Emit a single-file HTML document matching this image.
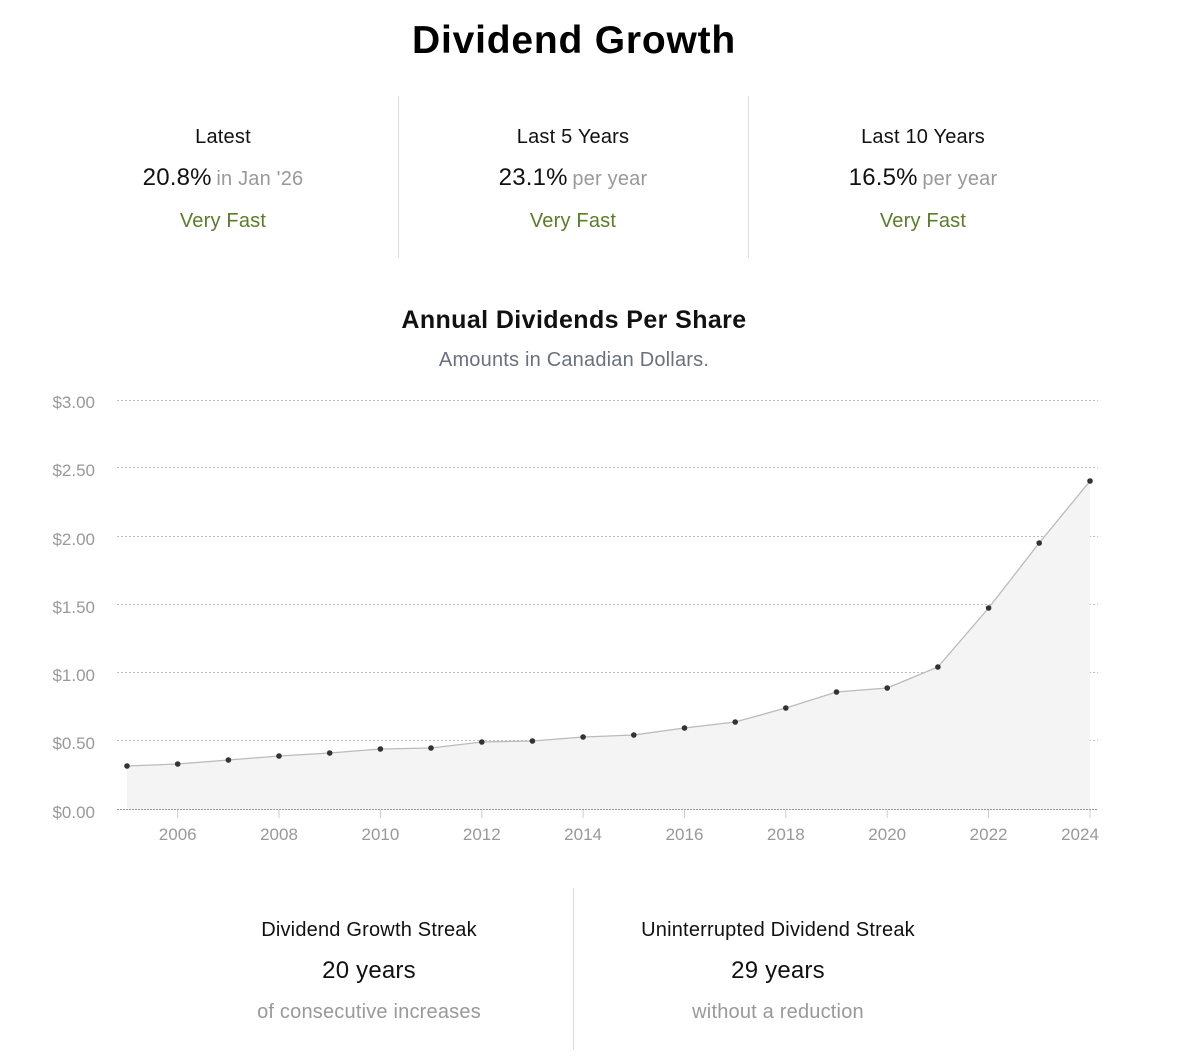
<!DOCTYPE html>
<html><head><meta charset="utf-8"><style>
body{margin:0;width:1182px;height:1062px;background:#fff;font-family:"Liberation Sans","DejaVu Sans",sans-serif;position:relative;overflow:hidden}
.a{position:absolute;text-align:center;white-space:nowrap;letter-spacing:0.2px}
.lbl{font-size:20px;color:#111}
.big{font-size:24px;color:#111}
.g{color:#999;font-size:20px}
.grn{font-size:20px;color:#5a7d2a}
.vl{position:absolute;width:1px;background:#ddd}
</style></head><body>
<div class="a" style="left:0;width:1148px;top:19px;font-size:39px;font-weight:bold;color:#000;letter-spacing:0.8px">Dividend Growth</div>

<div class="a lbl" style="left:48px;width:350px;top:126px">Latest</div>
<div class="a" style="left:48px;width:350px;top:164px"><span class="big">20.8%</span> <span class="g">in Jan '26</span></div>
<div class="a grn" style="left:48px;width:350px;top:210px">Very Fast</div>
<div class="vl" style="left:398px;top:96px;height:162px"></div>
<div class="a lbl" style="left:398px;width:350px;top:126px">Last 5 Years</div>
<div class="a" style="left:398px;width:350px;top:164px"><span class="big">23.1%</span> <span class="g">per year</span></div>
<div class="a grn" style="left:398px;width:350px;top:210px">Very Fast</div>
<div class="vl" style="left:748px;top:96px;height:162px"></div>
<div class="a lbl" style="left:748px;width:350px;top:126px">Last 10 Years</div>
<div class="a" style="left:748px;width:350px;top:164px"><span class="big">16.5%</span> <span class="g">per year</span></div>
<div class="a grn" style="left:748px;width:350px;top:210px">Very Fast</div>

<div class="a" style="left:0;width:1148px;top:306px;font-size:25px;font-weight:bold;color:#111;letter-spacing:0.4px">Annual Dividends Per Share</div>
<div class="a" style="left:0;width:1148px;top:349px;font-size:20px;color:#6b6f80">Amounts in Canadian Dollars.</div>

<svg style="position:absolute;left:0;top:0" width="1182" height="1062">
<g stroke="#bbb" stroke-dasharray="2,2" stroke-width="1">
<line x1="117" x2="1098" y1="400.5" y2="400.5"/><line x1="117" x2="1098" y1="467.5" y2="467.5"/>
<line x1="117" x2="1098" y1="536.5" y2="536.5"/><line x1="117" x2="1098" y1="604.5" y2="604.5"/>
<line x1="117" x2="1098" y1="672.5" y2="672.5"/><line x1="117" x2="1098" y1="740.5" y2="740.5"/>
</g>
<g font-size="17" fill="#999" text-anchor="end">
<text x="95" y="408">$3.00</text><text x="95" y="476">$2.50</text><text x="95" y="545">$2.00</text>
<text x="95" y="613">$1.50</text><text x="95" y="681">$1.00</text><text x="95" y="749">$0.50</text><text x="95" y="818">$0.00</text>
</g>
<polygon fill="#f4f4f4" points="127,810 127,766 177.7,764 228.4,760 279,756 329.7,753 380.4,749 431,748 481.8,742 532.4,741 583.1,737 633.8,735 684.5,728 735.2,722 785.8,708 836.5,692 887.2,688 937.9,667 988.6,608 1039.2,543 1090,481 1090,810"/>
<polyline fill="none" stroke="#bbb" stroke-width="1.3" points="127,766 177.7,764 228.4,760 279,756 329.7,753 380.4,749 431,748 481.8,742 532.4,741 583.1,737 633.8,735 684.5,728 735.2,722 785.8,708 836.5,692 887.2,688 937.9,667 988.6,608 1039.2,543 1090,481"/>
<line x1="117" x2="1098" y1="809.5" y2="809.5" stroke="#999" stroke-dasharray="2,1"/>
<g stroke="#ccc"><line x1="177.7" x2="177.7" y1="810" y2="818"/><line x1="279" x2="279" y1="810" y2="818"/><line x1="380.4" x2="380.4" y1="810" y2="818"/><line x1="481.8" x2="481.8" y1="810" y2="818"/><line x1="583.1" x2="583.1" y1="810" y2="818"/><line x1="684.5" x2="684.5" y1="810" y2="818"/><line x1="785.8" x2="785.8" y1="810" y2="818"/><line x1="887.2" x2="887.2" y1="810" y2="818"/><line x1="988.6" x2="988.6" y1="810" y2="818"/><line x1="1090" x2="1090" y1="810" y2="818"/></g>
<g fill="#333"><circle cx="127" cy="766" r="2.8"/><circle cx="177.7" cy="764" r="2.8"/><circle cx="228.4" cy="760" r="2.8"/><circle cx="279" cy="756" r="2.8"/><circle cx="329.7" cy="753" r="2.8"/><circle cx="380.4" cy="749" r="2.8"/><circle cx="431" cy="748" r="2.8"/><circle cx="481.8" cy="742" r="2.8"/><circle cx="532.4" cy="741" r="2.8"/><circle cx="583.1" cy="737" r="2.8"/><circle cx="633.8" cy="735" r="2.8"/><circle cx="684.5" cy="728" r="2.8"/><circle cx="735.2" cy="722" r="2.8"/><circle cx="785.8" cy="708" r="2.8"/><circle cx="836.5" cy="692" r="2.8"/><circle cx="887.2" cy="688" r="2.8"/><circle cx="937.9" cy="667" r="2.8"/><circle cx="988.6" cy="608" r="2.8"/><circle cx="1039.2" cy="543" r="2.8"/><circle cx="1090" cy="481" r="2.8"/></g>
<g font-size="17" fill="#999" text-anchor="middle">
<text x="177.7" y="840">2006</text><text x="279" y="840">2008</text><text x="380.4" y="840">2010</text><text x="481.8" y="840">2012</text><text x="583.1" y="840">2014</text><text x="684.5" y="840">2016</text><text x="785.8" y="840">2018</text><text x="887.2" y="840">2020</text><text x="988.6" y="840">2022</text><text x="1080" y="840">2024</text>
</g>
</svg>

<div class="a lbl" style="left:164px;width:410px;top:919px">Dividend Growth Streak</div>
<div class="a big" style="left:164px;width:410px;top:957px">20 years</div>
<div class="a g" style="left:164px;width:410px;top:1001px">of consecutive increases</div>
<div class="vl" style="left:573px;top:888px;height:162px"></div>
<div class="a lbl" style="left:573px;width:410px;top:919px">Uninterrupted Dividend Streak</div>
<div class="a big" style="left:573px;width:410px;top:957px">29 years</div>
<div class="a g" style="left:573px;width:410px;top:1001px">without a reduction</div>
</body></html>
